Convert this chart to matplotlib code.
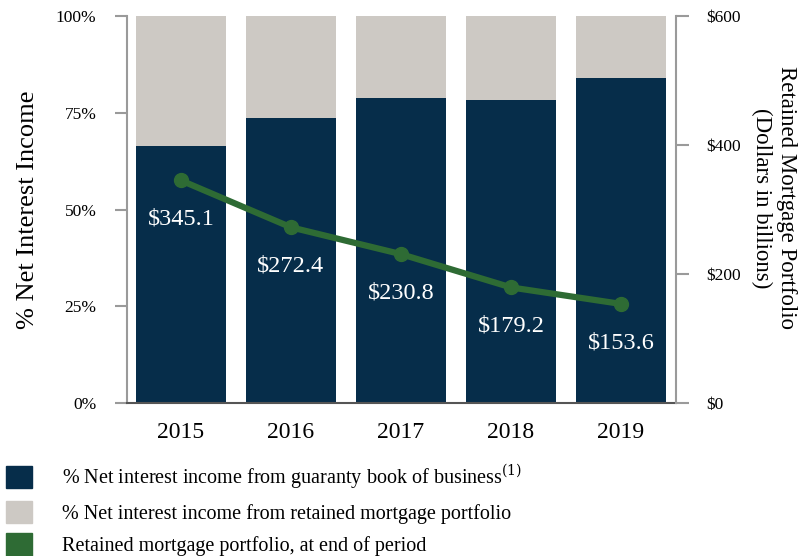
import matplotlib
matplotlib.use('Agg')
import matplotlib.pyplot as plt
from matplotlib.patches import Patch
import numpy as np

plt.rcParams['font.family'] = ['Liberation Serif', 'DejaVu Serif']
plt.rcParams['mathtext.fontset'] = 'dejavuserif'

years = ['2015', '2016', '2017', '2018', '2019']
guaranty_pct = [66.4, 73.6, 78.8, 78.3, 84.0]
retained_pct = [100 - v for v in guaranty_pct]
portfolio = [345.1, 272.4, 230.8, 179.2, 153.6]
legend_labels = ['% Net interest income from guaranty book of business$^{(1)}$',
                 '% Net interest income from retained mortgage portfolio',
                 'Retained mortgage portfolio, at end of period']

NAVY = '#062d4a'
GREY = '#cdc9c4'
GREEN = '#2e6b34'
AXIS = '#9a9a9a'

fig = plt.figure(figsize=(8.09, 5.56), dpi=100)
ax = fig.add_axes([0.157, 0.2752, 0.6786, 0.696])
x = np.arange(len(years))

ax.bar(x, guaranty_pct, width=0.818, color=NAVY, zorder=2)
ax.bar(x, retained_pct, bottom=guaranty_pct, width=0.818, color=GREY, zorder=2)
ax.set_xlim(-0.49, 4.5)
ax.set_ylim(0, 100)
ax.set_yticks([0, 25, 50, 75, 100])
ax.set_yticklabels(['0%', '25%', '50%', '75%', '100%'], fontsize=12.5)
ax.set_xticks(x)
ax.set_xticklabels(years, fontsize=17)
ax.tick_params(axis='x', length=0, pad=14)
ax.tick_params(axis='y', direction='out', length=9, width=1.5, color=AXIS, pad=13)
ax.set_ylabel('% Net Interest Income', fontsize=19, labelpad=12)
for s in ['top', 'right']:
    ax.spines[s].set_visible(False)
ax.spines['left'].set_color(AXIS)
ax.spines['left'].set_linewidth(1.5)
ax.spines['bottom'].set_color('#555555')
ax.spines['bottom'].set_linewidth(1.5)

ax2 = ax.twinx()
ax2.plot(x, portfolio, color=GREEN, linewidth=4.5, marker='o', markersize=10, zorder=5)
for xi, v in zip(x, portfolio):
    ax2.annotate('$%.1f' % v, (xi, v), xytext=(0, -28), textcoords='offset points',
                 ha='center', va='center', color='white', fontsize=17.5)
ax2.set_ylim(0, 600)
ax2.set_yticks([0, 200, 400, 600])
ax2.set_yticklabels(['$0', '$200', '$400', '$600'], fontsize=12.5)
ax2.tick_params(axis='y', direction='out', length=9, width=1.5, color=AXIS, pad=13)
ax2.set_ylabel('Retained Mortgage Portfolio\n(Dollars in billions)', fontsize=16.5,
               rotation=270, labelpad=40)
ax2.yaxis.label.set_y(0.53)
for s in ['top', 'left', 'bottom']:
    ax2.spines[s].set_visible(False)
ax2.spines['right'].set_color(AXIS)
ax2.spines['right'].set_linewidth(1.5)

handles = [Patch(color=NAVY), Patch(color=GREY), Patch(color=GREEN)]
fig.legend(handles, legend_labels, loc='upper left', bbox_to_anchor=(0.008, 0.168),
           frameon=False, fontsize=14.5, handlelength=1.25, handleheight=1.35,
           handletextpad=1.5, labelspacing=0.48, borderaxespad=0, borderpad=0)

fig.savefig('out.png', dpi=100)
